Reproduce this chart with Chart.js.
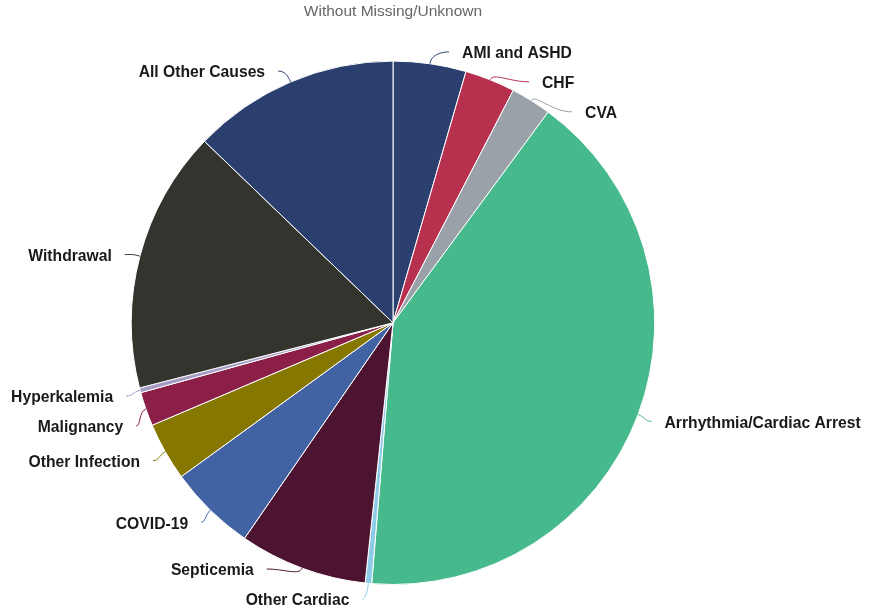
<!DOCTYPE html>
<html>
<head>
<meta charset="utf-8">
<script src="https://cdn.jsdelivr.net/npm/chart.js@4.4.1/dist/chart.umd.min.js"></script>
<style>
  html, body { margin: 0; padding: 0; background: #fff; }
</style>
</head>
<body>
<canvas id="causeChart" width="869" height="613"></canvas>
<script>
// causes of death, share in % (clockwise from 12 o'clock)
const causes = [
  'AMI and ASHD', 'CHF', 'CVA', 'Arrhythmia/Cardiac Arrest', 'Other Cardiac',
  'Septicemia', 'COVID-19', 'Other Infection', 'Malignancy', 'Hyperkalemia',
  'Withdrawal', 'All Other Causes'
];
const shares = [4.5, 3.1, 2.5, 41.2, 0.4, 7.9, 5.4, 3.6, 2.1, 0.3, 16.2, 12.8];
const sliceColors = [
  '#2c4070', '#b7314e', '#9aa1a8', '#46ba8c', '#8ecbe8',
  '#4d1432', '#4163a3', '#857700', '#8c1f48', '#a59bc4',
  '#34342f', '#2b3f6e'
];

const FONT = '"Liberation Sans", Arial, Helvetica, sans-serif';

// labels outside the pie with soft connectors
const outsideLabels = {
  id: 'outsideLabels',
  afterDatasetsDraw(chart) {
    const ctx = chart.ctx;
    const arcs = chart.getDatasetMeta(0).data;
    const gap = 30;

    const items = arcs.map((arc, i) => {
      const p = arc.getProps(['x', 'y', 'startAngle', 'endAngle', 'outerRadius'], true);
      const a = (p.startAngle + p.endAngle) / 2;
      return {
        i, a, cx: p.x, cy: p.y, r: p.outerRadius,
        side: Math.cos(a) >= 0 ? 1 : -1,
        y: p.y + (p.outerRadius + 14) * Math.sin(a) + 4
      };
    });

    // push overlapping labels apart on each side
    [1, -1].forEach(side => {
      const list = items.filter(it => it.side === side).sort((p, q) => p.y - q.y);
      for (let k = 1; k < list.length; k++) {
        if (list[k].y < list[k - 1].y + gap) list[k].y = list[k - 1].y + gap;
      }
      const maxY = chart.height - 12;
      const last = list.length - 1;
      if (last >= 0 && list[last].y > maxY) {
        list[last].y = maxY;
        for (let k = last - 1; k >= 0; k--) {
          if (list[k].y > list[k + 1].y - gap) list[k].y = list[k + 1].y - gap;
        }
      }
    });

    ctx.save();
    items.forEach(it => {
      const R = it.r + 15;
      const ly = it.y;
      const cy = ly - 2;
      const dy = cy - it.cy;
      const dx = Math.abs(dy) < R ? Math.sqrt(R * R - dy * dy) : 0;
      const px = it.cx + it.r * Math.cos(it.a);
      const py = it.cy + it.r * Math.sin(it.a);
      let ex = it.cx + it.side * dx;
      if (it.side > 0) ex = Math.max(ex, px + 6); else ex = Math.min(ex, px - 6);
      const qx = it.cx + (it.r + 8) * Math.cos(it.a);
      const qy = it.cy + (it.r + 8) * Math.sin(it.a);

      ctx.beginPath();
      ctx.moveTo(ex, cy);
      ctx.bezierCurveTo(ex - it.side * Math.abs(ex - px) * 0.5, cy, qx, qy, px, py);
      ctx.strokeStyle = sliceColors[it.i];
      ctx.lineWidth = 1;
      ctx.stroke();

      ctx.font = 'bold 15.7px ' + FONT;
      ctx.fillStyle = '#1a1a1a';
      ctx.textBaseline = 'middle';
      ctx.textAlign = it.side > 0 ? 'left' : 'right';
      ctx.fillText(causes[it.i], ex + it.side * 13, ly);
    });
    ctx.restore();
  }
};

new Chart(document.getElementById('causeChart'), {
  type: 'pie',
  data: {
    labels: causes,
    datasets: [{
      data: shares,
      backgroundColor: sliceColors,
      borderColor: '#ffffff',
      borderWidth: 1
    }]
  },
  options: {
    responsive: false,
    animation: false,
    layout: { padding: { top: 0, bottom: 28, left: 100, right: 183 } },
    plugins: {
      legend: { display: false },
      tooltip: { enabled: false },
      title: {
        display: true,
        text: 'Without Missing/Unknown',
        color: '#666666',
        font: { family: FONT, size: 15.5, weight: 'normal' },
        padding: { top: 2, bottom: 40 }
      }
    }
  },
  plugins: [outsideLabels]
});
</script>
</body>
</html>
